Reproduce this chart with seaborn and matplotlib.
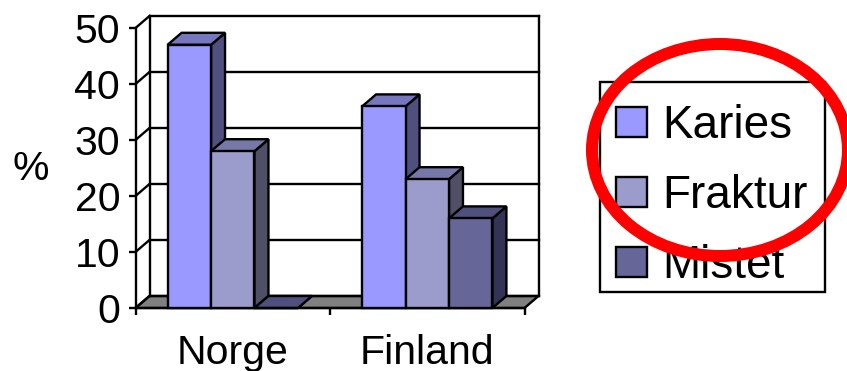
import matplotlib
matplotlib.use("Agg")
import matplotlib.pyplot as plt
from matplotlib.patches import Ellipse, Polygon, Rectangle
import pandas as pd
import seaborn as sns

countries = ["Norge", "Finland"]
karies = [47, 36]
fraktur = [28, 23]
mistet = [0, 16]
series_names = ["Karies", "Fraktur", "Mistet"]
y_ticks = [0, 10, 20, 30, 40, 50]

front_colors = ["#9999FF", "#9C9CCC", "#666699"]
top_colors = ["#7777BF", "#7777A8", "#50507F"]
side_colors = ["#50507F", "#4F4F66", "#333355"]

W, H = 847, 371
LW = 1.7
sns.set_theme(style="white")
plt.rcParams["font.family"] = ["Liberation Sans", "DejaVu Sans"]

df = pd.DataFrame({
    "land": countries * 3,
    "serie": [s for s in series_names for _ in countries],
    "prosent": karies + fraktur + mistet,
})

fig = plt.figure(figsize=(W / 100, H / 100), dpi=100, facecolor="white")
ax = fig.add_axes([135.5 / W, (H - 308) / H, 389 / W, 280 / H])

sns.barplot(data=df, x="land", y="prosent", hue="serie", hue_order=series_names,
            palette=front_colors, saturation=1, width=0.67, gap=0, dodge=True,
            edgecolor="black", linewidth=LW, errorbar=None, ax=ax, legend=False)
ax.set_xlim(-0.5, 1.5)
ax.set_ylim(0, 50)

# Depth of the 3D look, in data units
dx = 14 / (389 / 2)
dy = 12 / (280 / 50)
line = dict(color="black", lw=LW, clip_on=False, solid_capstyle="projecting")

# Floor and back wall
ax.add_patch(Polygon([(-0.5, 0), (-0.5 + dx, dy), (1.5 + dx, dy), (1.5, 0)], closed=True,
                     facecolor="#808080", edgecolor="black", lw=LW, clip_on=False, zorder=1))
for t in y_ticks:
    ax.plot([-0.5 + dx, 1.5 + dx], [t + dy, t + dy], zorder=1.2, **line)
    ax.plot([-0.5, -0.5 + dx], [t, t + dy], zorder=1.2, **line)
ax.plot([-0.5 + dx] * 2, [dy, 50 + dy], zorder=1.2, **line)
ax.plot([1.5 + dx] * 2, [dy, 50 + dy], zorder=1.2, **line)

# Extrude each bar, painting from left to right so nearer bars overlap correctly
bars = []
for i, container in enumerate(ax.containers):
    bars += [(bar, i) for bar in container]
bars.sort(key=lambda item: item[0].get_x())
z = 2.0
for bar, i in bars:
    x0, x1 = bar.get_x(), bar.get_x() + bar.get_width()
    h = bar.get_height()
    ax.add_patch(Polygon([(x1, 0), (x1 + dx, dy), (x1 + dx, h + dy), (x1, h)], closed=True,
                         facecolor=side_colors[i], edgecolor="black", lw=LW,
                         clip_on=False, zorder=z))
    ax.add_patch(Polygon([(x0, h), (x0 + dx, h + dy), (x1 + dx, h + dy), (x1, h)], closed=True,
                         facecolor=top_colors[i], edgecolor="black", lw=LW,
                         clip_on=False, zorder=z + 0.1))
    bar.set_zorder(z + 0.2)
    bar.set_clip_on(False)
    z += 1

sns.despine(ax=ax)
for side in ("left", "bottom"):
    ax.spines[side].set_color("black")
    ax.spines[side].set_linewidth(LW)
    ax.spines[side].set_zorder(1.5)

ax.set_yticks(y_ticks)
ax.set_xticks([0, 1], countries)
ax.set_xticks([-0.5, 0.5, 1.5], minor=True)
ax.tick_params(axis="y", left=True, length=5, width=LW, color="black",
               labelsize=29.5, pad=6, labelcolor="black")
ax.tick_params(axis="x", which="major", bottom=False, labelsize=29.5, pad=12.5, labelcolor="black")
ax.tick_params(axis="x", which="minor", bottom=True, length=5, width=LW, color="black")
ax.set_xlabel("")
ax.set_ylabel("")
fig.text(31 / W, 1 - 168.5 / H, "%", fontsize=29.5, ha="center", va="center", color="black")

# Legend box and entries
fig.add_artist(Rectangle((600 / W, 1 - 292 / H), 225 / W, 210 / H, transform=fig.transFigure,
                         facecolor="white", edgecolor="black", lw=LW, zorder=-1))
handles = [Rectangle((0, 0), 1, 1, facecolor=c, edgecolor="black", lw=LW) for c in front_colors]
leg = ax.legend(handles, series_names, loc="upper left",
                bbox_to_anchor=(601 / W, 1 - 89 / H), bbox_transform=fig.transFigure,
                fontsize=33, frameon=False,
                handlelength=0.67, handleheight=0.65, handletextpad=0.33,
                labelspacing=0.565, borderpad=0.33, borderaxespad=0, labelcolor="black")
leg.set_zorder(20)

# Red ring around the legend
fig.add_artist(Ellipse((720 / W, 1 - 150 / H), 256 / W, 212 / H, transform=fig.transFigure,
                       facecolor="none", edgecolor="#FF0000", lw=12 * 0.72, zorder=30))

fig.savefig("out.png", dpi=100)
